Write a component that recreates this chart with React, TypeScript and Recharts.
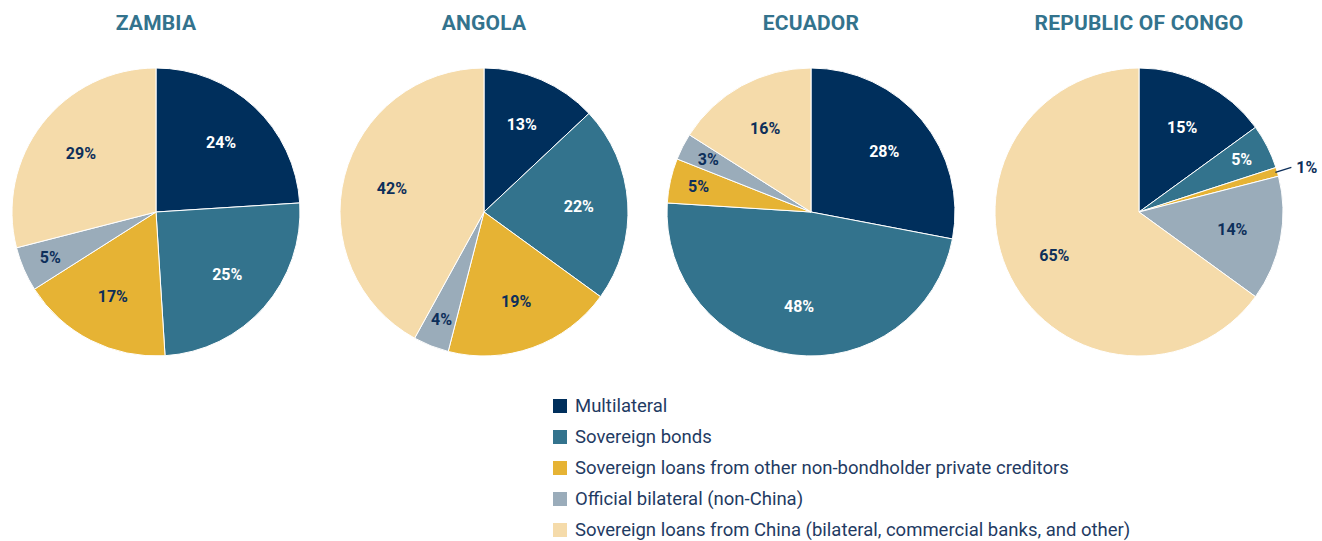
import React from 'react'
import { PieChart, Pie, Cell } from 'recharts'

const CATEGORIES = [
  'Multilateral',
  'Sovereign bonds',
  'Sovereign loans from other non-bondholder private creditors',
  'Official bilateral (non-China)',
  'Sovereign loans from China (bilateral, commercial banks, and other)',
]

const COUNTRIES = ['ZAMBIA', 'ANGOLA', 'ECUADOR', 'REPUBLIC OF CONGO']

const ZAMBIA = [24, 25, 17, 5, 29]
const ANGOLA = [13, 22, 19, 4, 42]
const ECUADOR = [28, 48, 5, 3, 16]
const CONGO = [15, 5, 1, 14, 65]

const SERIES = [ZAMBIA, ANGOLA, ECUADOR, CONGO]

const COLORS = ['#002f5c', '#33738d', '#e6b334', '#9aacba', '#f5dbaa']
const LABEL_COLORS = ['#ffffff', '#ffffff', '#0d2f5a', '#0d2f5a', '#0d2f5a']

const FONT = 'Roboto, "Noto Sans", sans-serif'
const WIDTH = 1322
const HEIGHT = 541
const CENTERS = [156, 484, 811, 1139]
const CY = 212
const RADIUS = 144
const RAD = Math.PI / 180

const renderLabel = (props: any) => {
  const { cx, cy, midAngle, outerRadius, value, percent, index } = props
  const cos = Math.cos(-midAngle * RAD)
  const sin = Math.sin(-midAngle * RAD)
  if (percent < 0.02) {
    const x1 = cx + (outerRadius - 2) * cos
    const y1 = cy + (outerRadius - 2) * sin
    const x2 = x1 + 16
    const y2 = y1 - 5
    return (
      <g>
        <line x1={x1} y1={y1} x2={x2} y2={y2} stroke="#0d2f5a" strokeWidth={1.5} />
        <text
          x={x2 + 5}
          y={y2}
          fill="#0d2f5a"
          fontFamily={FONT}
          fontWeight={700}
          fontSize={16}
          dominantBaseline="central"
        >
          {`${value}%`}
        </text>
      </g>
    )
  }
  const r = outerRadius * (percent < 0.06 ? 0.8 : 0.66)
  return (
    <text
      x={cx + r * cos}
      y={cy + r * sin}
      fill={LABEL_COLORS[index]}
      fontFamily={FONT}
      fontWeight={700}
      fontSize={16}
      textAnchor="middle"
      dominantBaseline="central"
    >
      {`${value}%`}
    </text>
  )
}

export default function App() {
  return (
    <div
      style={{
        position: 'absolute',
        left: 0,
        top: 0,
        width: WIDTH,
        height: HEIGHT,
        background: '#ffffff',
        fontFamily: FONT,
      }}
    >
      {COUNTRIES.map((name, i) => (
        <div
          key={name}
          style={{
            position: 'absolute',
            left: CENTERS[i] - 160,
            width: 320,
            top: 11,
            textAlign: 'center',
            fontSize: 21,
            fontWeight: 700,
            color: '#33738d',
            letterSpacing: 0.2,
          }}
        >
          {name}
        </div>
      ))}
      <PieChart
        width={WIDTH}
        height={380}
        margin={{ top: 0, right: 0, bottom: 0, left: 0 }}
        style={{ position: 'absolute', left: 0, top: 0 }}
      >
        {SERIES.map((values, i) => (
          <Pie
            key={COUNTRIES[i]}
            data={values.map((v, j) => ({ name: CATEGORIES[j], value: v }))}
            dataKey="value"
            nameKey="name"
            cx={CENTERS[i]}
            cy={CY}
            outerRadius={RADIUS}
            startAngle={90}
            endAngle={-270}
            stroke="#ffffff"
            strokeWidth={1}
            label={renderLabel}
            labelLine={false}
            isAnimationActive={false}
          >
            {values.map((_, j) => (
              <Cell key={`cell-${j}`} fill={COLORS[j]} />
            ))}
          </Pie>
        ))}
      </PieChart>
      <div style={{ position: 'absolute', left: 553, top: 391 }}>
        {CATEGORIES.map((c, j) => (
          <div
            key={c}
            style={{ display: 'flex', alignItems: 'center', height: 30.8 }}
          >
            <div style={{ width: 14, height: 14, background: COLORS[j], marginRight: 8 }} />
            <span style={{ fontSize: 18.5, fontWeight: 400, color: '#1f3b63' }}>{c}</span>
          </div>
        ))}
      </div>
    </div>
  )
}
